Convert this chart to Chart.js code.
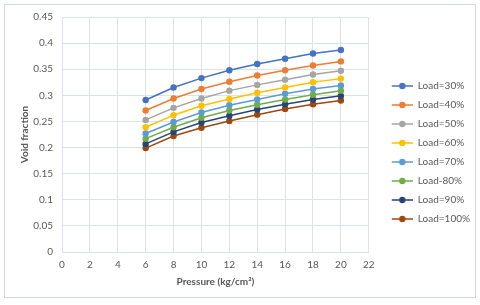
<!DOCTYPE html>
<html>
<head>
<meta charset="utf-8">
<script src="https://cdn.jsdelivr.net/npm/chart.js@4"></script>
<style>
  html, body { margin: 0; padding: 0; background: #fff; }
  .frame {
    position: absolute; left: 4px; top: 4px;
    width: 472px; height: 294px;
    border: 1px solid #d3d7de;
    box-sizing: border-box;
  }
  #voidChart { position: absolute; left: 0; top: 0; display: block; }
</style>
</head>
<body>
<div class="frame"></div>
<canvas id="voidChart" width="480" height="305"></canvas>
<script>
// pressure (kg/cm2)
const pressure = [6, 8, 10, 12, 14, 16, 18, 20];

const load30  = [0.291, 0.315, 0.333, 0.348, 0.360, 0.370, 0.380, 0.387];
const load40  = [0.271, 0.294, 0.312, 0.326, 0.338, 0.348, 0.357, 0.365];
const load50  = [0.253, 0.276, 0.294, 0.309, 0.320, 0.330, 0.340, 0.347];
const load60  = [0.239, 0.262, 0.280, 0.293, 0.305, 0.315, 0.325, 0.332];
const load70  = [0.227, 0.249, 0.267, 0.281, 0.292, 0.303, 0.312, 0.319];
const load80  = [0.217, 0.239, 0.257, 0.271, 0.282, 0.292, 0.301, 0.309];
const load90  = [0.207, 0.230, 0.248, 0.261, 0.273, 0.283, 0.292, 0.299];
const load100 = [0.199, 0.222, 0.238, 0.251, 0.263, 0.274, 0.283, 0.290];

const seriesNames = ['Load=30%', 'Load=40%', 'Load=50%', 'Load=60%', 'Load=70%', 'Load-80%', 'Load=90%', 'Load=100%'];
const seriesData = [load30, load40, load50, load60, load70, load80, load90, load100];
const seriesColors = ['#4472C4', '#ED7D31', '#A5A5A5', '#FFC000', '#5B9BD5', '#70AD47', '#264478', '#9E480E'];

const xTicks = [0, 2, 4, 6, 8, 10, 12, 14, 16, 18, 20, 22];

const FONT = 'Lato, "Liberation Sans", sans-serif';
const GREY = '#595959';
const GRID = '#dde2ea';

// legend icon: short line with a dot, excel style (left part left empty as a gap)
function legendIcon(color) {
  const c = document.createElement('canvas');
  c.width = 35; c.height = 8;
  const g = c.getContext('2d');
  g.strokeStyle = color;
  g.lineWidth = 1.5;
  g.beginPath(); g.moveTo(14, 4); g.lineTo(35, 4); g.stroke();
  g.fillStyle = color;
  g.beginPath(); g.arc(24.5, 4, 3.2, 0, Math.PI * 2); g.fill();
  return c;
}
const icons = seriesColors.map(legendIcon);

const datasets = seriesNames.map((name, i) => ({
  label: name,
  data: pressure.map((p, j) => ({x: p, y: seriesData[i][j]})),
  borderColor: seriesColors[i],
  backgroundColor: seriesColors[i],
  borderWidth: 1.5,
  pointRadius: 3.2,
  pointBorderWidth: 0,
  tension: 0,
}));

new Chart(document.getElementById('voidChart'), {
  type: 'line',
  data: {datasets: datasets},
  options: {
    responsive: false,
    animation: false,
    layout: {padding: {left: 19, right: 0, top: 17, bottom: 17}},
    scales: {
      x: {
        type: 'linear',
        min: 0, max: 22,
        afterBuildTicks: s => { s.ticks = xTicks.map(v => ({value: v})); },
        afterFit: s => { s.height = 36; },
        grid: {color: GRID, drawTicks: false},
        border: {color: GRID},
        ticks: {color: GREY, font: {family: FONT, size: 10}, padding: 7},
        title: {display: true, text: 'Pressure (kg/cm²)', color: GREY,
                font: {family: FONT, size: 10, weight: 'bold'}, padding: 0},
      },
      y: {
        min: 0, max: 0.45,
        afterFit: s => { s.width = 43; },
        ticks: {stepSize: 0.05, color: GREY, font: {family: FONT, size: 10}, padding: 9,
                callback: v => String(+v.toFixed(2))},
        grid: {color: GRID, drawTicks: false},
        border: {color: GRID},
        title: {display: true, text: 'Void fraction', color: GREY,
                font: {family: FONT, size: 10, weight: 'bold'}, padding: 0},
      },
    },
    plugins: {
      tooltip: {enabled: false},
      legend: {
        position: 'right',
        labels: {
          color: GREY,
          font: {family: FONT, size: 10},
          usePointStyle: true,
          pointStyleWidth: 35,
          padding: 9,
          generateLabels: chart => {
            const items = Chart.defaults.plugins.legend.labels.generateLabels(chart);
            items.forEach(it => { it.pointStyle = icons[it.datasetIndex]; });
            return items;
          },
        },
      },
    },
  },
});
</script>
</body>
</html>
